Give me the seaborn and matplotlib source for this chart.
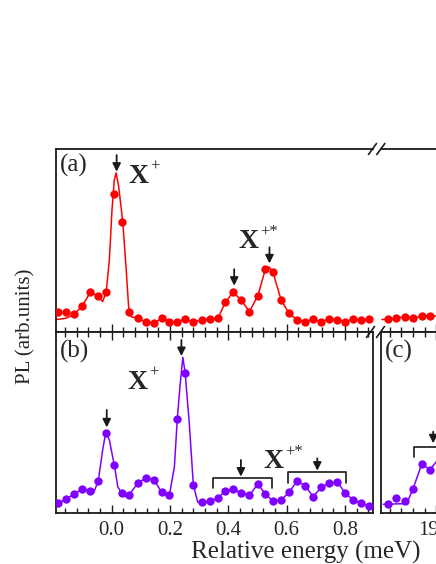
import matplotlib.pyplot as plt
import matplotlib.ticker as ticker
import numpy as np
import pandas as pd
import seaborn as sns
from matplotlib.lines import Line2D

sns.set_theme(style="ticks")
plt.rcParams["font.family"] = ["Liberation Serif", "DejaVu Serif"]

W, H = 436, 564

# measured points (relative energy in meV, PL in arb. units)
energy = [-0.183, -0.157, -0.129, -0.101, -0.073, -0.046, -0.019, 0.009, 0.034, 0.060,
          0.089, 0.118, 0.144, 0.172, 0.198, 0.225, 0.252, 0.280, 0.309, 0.336,
          0.364, 0.390, 0.416, 0.444, 0.472, 0.501, 0.527, 0.553, 0.581, 0.608,
          0.636, 0.663, 0.691, 0.718, 0.745, 0.773, 0.800, 0.827, 0.855, 0.883]
pl_a = [0.111, 0.111, 0.097, 0.144, 0.217, 0.197, 0.217, 0.752, 0.601, 0.111,
        0.075, 0.056, 0.049, 0.075, 0.056, 0.056, 0.071, 0.056, 0.066, 0.071,
        0.075, 0.162, 0.217, 0.175, 0.111, 0.198, 0.343, 0.326, 0.175, 0.102,
        0.066, 0.056, 0.069, 0.056, 0.071, 0.066, 0.056, 0.071, 0.066, 0.071]
pl_b = [0.054, 0.076, 0.105, 0.133, 0.122, 0.177, 0.442, 0.264, 0.109, 0.101,
        0.164, 0.195, 0.184, 0.114, 0.099, 0.521, 0.773, 0.155, 0.059, 0.066,
        0.081, 0.123, 0.131, 0.112, 0.097, 0.160, 0.105, 0.066, 0.072, 0.114,
        0.177, 0.151, 0.090, 0.142, 0.164, 0.173, 0.112, 0.072, 0.054, 0.039]

energy_c = [18.833, 18.862, 18.891, 18.920, 18.950, 18.978]
pl_a_right = [0.069, 0.075, 0.084, 0.075, 0.089, 0.086]
pl_c = [0.050, 0.085, 0.066, 0.134, 0.271, 0.239]

# fitted curves
fit_a_x = [-0.191, -0.157, -0.129, -0.101, -0.073, -0.046, -0.031, -0.019, -0.008, 0.001,
           0.009, 0.015, 0.024, 0.038, 0.049, 0.058, 0.066, 0.089, 0.118, 0.144,
           0.172, 0.198, 0.225, 0.252, 0.280, 0.309, 0.336, 0.364, 0.390, 0.416,
           0.444, 0.472, 0.501, 0.527, 0.540, 0.553, 0.581, 0.608, 0.636, 0.663,
           0.691, 0.718, 0.745, 0.773, 0.800, 0.827, 0.855, 0.883]
fit_a_y = [0.068, 0.075, 0.095, 0.144, 0.217, 0.197, 0.166, 0.217, 0.393, 0.667,
           0.831, 0.870, 0.794, 0.603, 0.357, 0.138, 0.084, 0.075, 0.056, 0.049,
           0.075, 0.056, 0.056, 0.071, 0.056, 0.066, 0.071, 0.075, 0.162, 0.217,
           0.175, 0.111, 0.198, 0.343, 0.355, 0.326, 0.175, 0.102, 0.066, 0.056,
           0.069, 0.056, 0.071, 0.066, 0.056, 0.071, 0.066, 0.071]
fit_a_right_x = [18.813, 18.833, 18.862, 18.891, 18.920, 18.950, 18.978, 19.0]
fit_a_right_y = [0.068, 0.069, 0.075, 0.084, 0.075, 0.089, 0.086, 0.088]

fit_b_x = [-0.191, -0.183, -0.157, -0.129, -0.101, -0.073, -0.062, -0.046, -0.031, -0.020,
           -0.008, 0.009, 0.021, 0.034, 0.049, 0.060, 0.089, 0.118, 0.144, 0.172,
           0.198, 0.215, 0.225, 0.234, 0.244, 0.252, 0.266, 0.280, 0.295, 0.309,
           0.336, 0.364, 0.390, 0.416, 0.444, 0.472, 0.501, 0.527, 0.553, 0.581,
           0.608, 0.636, 0.663, 0.691, 0.718, 0.745, 0.773, 0.800, 0.827, 0.855, 0.883]
fit_b_y = [0.050, 0.054, 0.076, 0.105, 0.133, 0.122, 0.112, 0.177, 0.348, 0.449,
           0.403, 0.264, 0.145, 0.109, 0.090, 0.101, 0.164, 0.195, 0.184, 0.114,
           0.099, 0.256, 0.521, 0.698, 0.860, 0.773, 0.496, 0.155, 0.060, 0.052,
           0.066, 0.081, 0.123, 0.131, 0.112, 0.097, 0.160, 0.105, 0.066, 0.072,
           0.114, 0.177, 0.151, 0.090, 0.142, 0.164, 0.173, 0.112, 0.072, 0.054, 0.039]
fit_c_x = [18.818, 18.898, 18.920, 18.950, 18.978, 19.0]
fit_c_y = [0.048, 0.052, 0.134, 0.271, 0.239, 0.284]

red = "#ff0000"
purple = "#7f00ff"


def fx(px):
    return px / W


def fy(py):
    return 1 - py / H


fig = plt.figure(figsize=(W / 100, H / 100), dpi=100)

x_left, x_bright, x_cleft, x_far = 56, 372.7, 381, 560
y_atop, y_mid, y_bbot = 149, 332, 513

pos_left = [fx(x_left), fy(y_mid), fx(x_bright) - fx(x_left), fy(y_atop) - fy(y_mid)]
pos_right = [fx(x_cleft), fy(y_mid), fx(x_far) - fx(x_cleft), fy(y_atop) - fy(y_mid)]
ax_a = fig.add_axes(pos_left)
ax_a2 = fig.add_axes(pos_right)
ax_b = fig.add_axes([fx(x_left), fy(y_bbot), fx(x_bright) - fx(x_left), fy(y_mid) - fy(y_bbot)])
ax_c = fig.add_axes([fx(x_cleft), fy(y_bbot), fx(x_far) - fx(x_cleft), fy(y_mid) - fy(y_bbot)])

lim_main = (-0.191, 0.895)
lim_far = (18.81, 19.424)

for ax, lim in [(ax_a, lim_main), (ax_a2, lim_far), (ax_b, lim_main), (ax_c, lim_far)]:
    ax.set_xlim(lim)
    ax.set_ylim(0, 1)
    ax.set_yticks([])
    ax.set_xlabel("")
    ax.set_ylabel("")
    ax.xaxis.set_major_locator(ticker.MultipleLocator(0.2))
    ax.xaxis.set_minor_locator(ticker.MultipleLocator(0.04))
    ax.xaxis.set_major_formatter(ticker.FormatStrFormatter("%.1f"))
    ax.tick_params(axis="x", which="both", direction="in", bottom=True, top=True,
                   labelbottom=False, width=1.0, color="k")
    ax.tick_params(axis="x", which="major", length=6)
    ax.tick_params(axis="x", which="minor", length=3.5)
    for s in ax.spines.values():
        s.set_linewidth(1.3)
        s.set_color("k")

for ax in (ax_a, ax_a2):
    ax.tick_params(axis="x", which="both", top=False)
ax_a.spines["right"].set_visible(False)
ax_a2.spines["left"].set_visible(False)
for ax in (ax_b, ax_c):
    ax.tick_params(axis="x", which="both", labelbottom=True, labelsize=15, pad=6)

# data
sns.lineplot(x=fit_a_x, y=fit_a_y, ax=ax_a, color=red, lw=1.1, sort=False, estimator=None)
sns.scatterplot(x=energy, y=pl_a, ax=ax_a, color=red, s=36, linewidth=0, zorder=3)
sns.lineplot(x=fit_a_right_x, y=fit_a_right_y, ax=ax_a2, color=red, lw=1.1, sort=False, estimator=None)
sns.scatterplot(x=energy_c, y=pl_a_right, ax=ax_a2, color=red, s=36, linewidth=0, zorder=3)

sns.lineplot(x=fit_b_x, y=fit_b_y, ax=ax_b, color=purple, lw=1.1, sort=False, estimator=None)
sns.scatterplot(x=energy, y=pl_b, ax=ax_b, color=purple, s=36, linewidth=0, zorder=3)
sns.lineplot(x=fit_c_x, y=fit_c_y, ax=ax_c, color=purple, lw=1.1, sort=False, estimator=None)
sns.scatterplot(x=energy_c, y=pl_c, ax=ax_c, color=purple, s=36, linewidth=0, zorder=3)


def down_arrow(ax, x, y_tail, y_tip):
    ax.annotate("", xy=(x, y_tip), xytext=(x, y_tail),
                arrowprops=dict(arrowstyle="-|>", color="k", lw=1.3,
                                mutation_scale=12, shrinkA=0, shrinkB=0))


def bracket(ax, x0, x1, y_top, y_end):
    ax.plot([x0, x0, x1, x1], [y_end, y_top, y_top, y_end], color="k", lw=1.2)


def species(ax, x, y, sup):
    ax.text(x, y, "X", fontsize=20, fontweight="bold", ha="left", va="baseline")
    ax.annotate(sup, xy=(x, y), xytext=(15.5, 9), textcoords="offset points",
                fontsize=12, ha="left", va="baseline")


# panel (a)
ax_a.text(0.013, 0.975, "(a)", transform=ax_a.transAxes, fontsize=18, va="top", ha="left")
down_arrow(ax_a, 0.017, 0.967, 0.876)
down_arrow(ax_a, 0.420, 0.343, 0.253)
down_arrow(ax_a, 0.541, 0.463, 0.375)
species(ax_a, 0.057, 0.816, "+")
species(ax_a, 0.434, 0.457, "+*")

# panel (b)
ax_b.text(0.013, 0.955, "(b)", transform=ax_b.transAxes, fontsize=18, va="top", ha="left")
down_arrow(ax_b, -0.017, 0.569, 0.473)
down_arrow(ax_b, 0.239, 0.956, 0.867)
down_arrow(ax_b, 0.443, 0.293, 0.201)
down_arrow(ax_b, 0.705, 0.302, 0.234)
bracket(ax_b, 0.349, 0.549, 0.195, 0.136)
bracket(ax_b, 0.606, 0.803, 0.228, 0.164)
species(ax_b, 0.055, 0.683, "+")
species(ax_b, 0.520, 0.247, "+*")

# panel (c)
ax_c.text(0.022, 0.955, "(c)", transform=ax_c.transAxes, fontsize=18, va="top", ha="left")
bracket(ax_c, 18.923, 19.6, 0.366, 0.311)
down_arrow(ax_c, 18.989, 0.449, 0.385)

# axis break marks
for cx, cy in [(372.5, y_atop), (380.8, y_atop), (370.5, y_mid), (380.5, y_mid)]:
    fig.add_artist(Line2D([fx(cx - 4), fx(cx + 4)], [fy(cy + 5.5), fy(cy - 5.5)],
                          color="k", lw=1.2))

fig.text(fx(26), fy(326), "PL (arb.units)", rotation=90, fontsize=15, ha="center", va="center")
fig.text(fx(305.8), fy(558.3), "Relative energy (meV)", fontsize=18, ha="center", va="baseline")

fig.savefig("out.png", dpi=100)
